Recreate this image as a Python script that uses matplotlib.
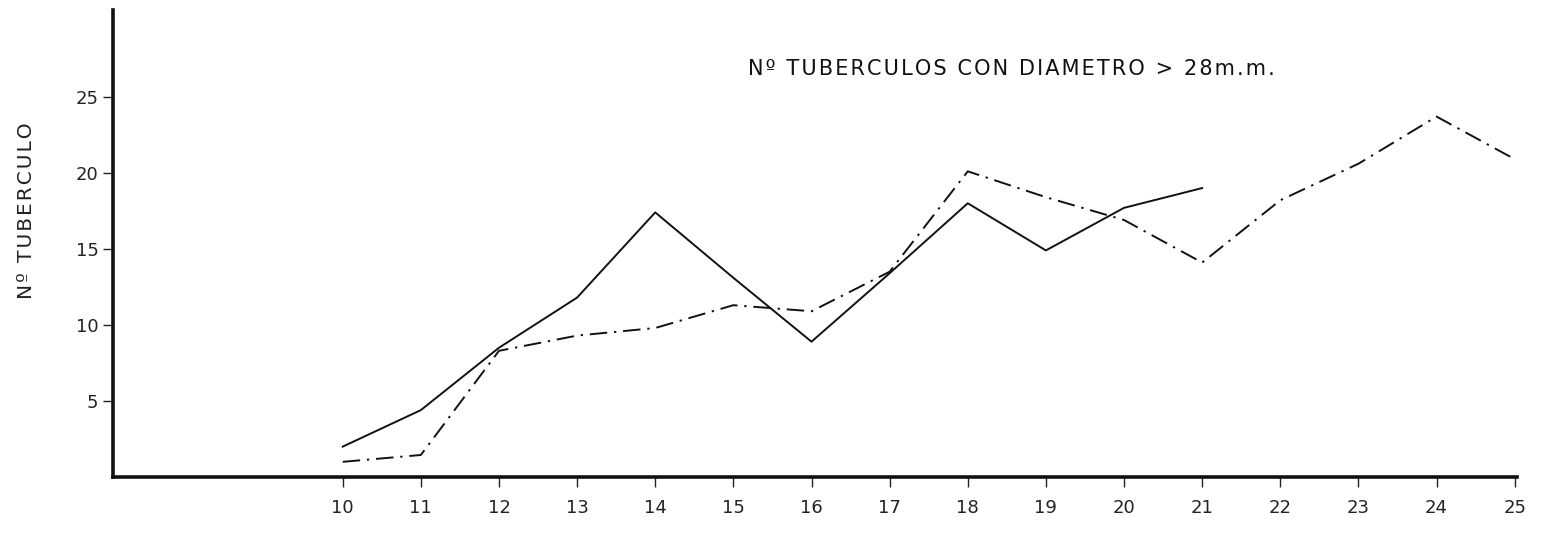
import matplotlib.pyplot as plt

# --- datos ---
semanas = [10, 11, 12, 13, 14, 15, 16, 17, 18, 19, 20, 21, 22, 23, 24, 25]
serie_solida = [2.0, 4.4, 8.5, 11.8, 17.4, 13.1, 8.9, 13.4, 18.0, 14.9, 17.7, 19.0]
serie_punto_raya = [1.0, 1.45, 8.3, 9.3, 9.8, 11.3, 10.9, 13.5, 20.1, 18.4, 16.9,
                    14.1, 18.2, 20.6, 23.7, 20.9]
yticks = [5, 10, 15, 20, 25]
titulo = "Nº TUBERCULOS CON DIAMETRO > 28m.m."
ylabel = "Nº TUBERCULO"

plt.rcParams['font.family'] = ['DejaVu Sans']


# letras espaciadas como en el rotulado original
def espaciado(s):
    return '\u200a'.join(s)


fig = plt.figure(figsize=(15.48, 5.33), dpi=100)
ax = fig.add_axes([0.073, 0.105, 0.907, 0.876])

ax.plot(semanas[:len(serie_solida)], serie_solida, color='#111111', lw=1.4)
ax.plot(semanas, serie_punto_raya, color='#111111', lw=1.4,
        linestyle=(0, (9, 3.5, 1.2, 3.5)))

ax.set_xlim(7.06, 25.03)
ax.set_ylim(0, 30.7)

ax.spines['top'].set_visible(False)
ax.spines['right'].set_visible(False)
for s in ['left', 'bottom']:
    ax.spines[s].set_linewidth(2.6)
    ax.spines[s].set_color('#111111')

ax.set_xticks(semanas)
ax.set_xticklabels([str(s) for s in semanas])
ax.set_yticks(yticks)
ax.tick_params(axis='both', labelsize=13, colors='#222222', width=1.0, length=7)
ax.tick_params(axis='x', pad=9)

fig.text(27 / 1548, 1 - 211 / 533, espaciado(ylabel), rotation=90, fontsize=14.5,
         color='#222222', ha='center', va='center')
fig.text(748 / 1548, 1 - 69 / 533, espaciado(titulo), fontsize=15,
         color='#111111', ha='left', va='center')

fig.savefig('out.png', dpi=100, facecolor='white')
